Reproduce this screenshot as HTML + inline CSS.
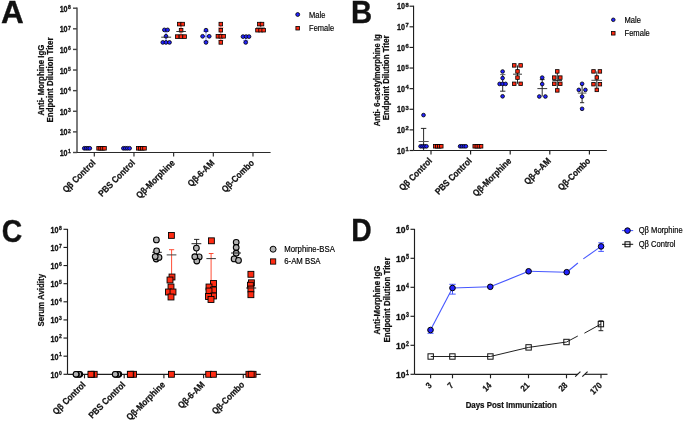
<!DOCTYPE html>
<html><head><meta charset="utf-8"><style>
html,body{margin:0;padding:0;background:#fff;}
svg{display:block;font-family:"Liberation Sans",sans-serif;will-change:transform;}
</style></head><body>
<svg width="685" height="421" viewBox="0 0 685 421">
<rect width="685" height="421" fill="#fff"/>
<text transform="translate(0.93 22.60) scale(1.0 0.97)" font-size="31.5" font-weight="bold" text-anchor="start" fill="#111" stroke="#111" stroke-width="0.35">A</text>
<text transform="translate(351.00 22.60) scale(0.93 0.98)" font-size="31.5" font-weight="bold" text-anchor="start" fill="#111" stroke="#111" stroke-width="0.35">B</text>
<text transform="translate(1.86 241.90) scale(0.9 1.0)" font-size="31.5" font-weight="bold" text-anchor="start" fill="#111" stroke="#111" stroke-width="0.35">C</text>
<text transform="translate(351.20 241.00) scale(0.9 0.985)" font-size="31.5" font-weight="bold" text-anchor="start" fill="#111" stroke="#111" stroke-width="0.35">D</text>
<line x1="77.00" y1="7.50" x2="77.00" y2="152.50" stroke="#444" stroke-width="1.4" />
<line x1="73.00" y1="8.20" x2="77.00" y2="8.20" stroke="#444" stroke-width="1.4" />
<text transform="translate(67.60 11.70) scale(0.92 1.13)" font-size="7.8" font-weight="bold" text-anchor="end" fill="#111" stroke="#111" stroke-width="0.28">10</text>
<text transform="translate(68.10 8.90) scale(1 0.95)" font-size="5.0" font-weight="bold" text-anchor="start" fill="#111" stroke="#111" stroke-width="0.3">8</text>
<line x1="73.00" y1="28.81" x2="77.00" y2="28.81" stroke="#444" stroke-width="1.4" />
<text transform="translate(67.60 32.31) scale(0.92 1.13)" font-size="7.8" font-weight="bold" text-anchor="end" fill="#111" stroke="#111" stroke-width="0.28">10</text>
<text transform="translate(68.10 29.51) scale(1 0.95)" font-size="5.0" font-weight="bold" text-anchor="start" fill="#111" stroke="#111" stroke-width="0.3">7</text>
<line x1="73.00" y1="49.43" x2="77.00" y2="49.43" stroke="#444" stroke-width="1.4" />
<text transform="translate(67.60 52.93) scale(0.92 1.13)" font-size="7.8" font-weight="bold" text-anchor="end" fill="#111" stroke="#111" stroke-width="0.28">10</text>
<text transform="translate(68.10 50.13) scale(1 0.95)" font-size="5.0" font-weight="bold" text-anchor="start" fill="#111" stroke="#111" stroke-width="0.3">6</text>
<line x1="73.00" y1="70.04" x2="77.00" y2="70.04" stroke="#444" stroke-width="1.4" />
<text transform="translate(67.60 73.54) scale(0.92 1.13)" font-size="7.8" font-weight="bold" text-anchor="end" fill="#111" stroke="#111" stroke-width="0.28">10</text>
<text transform="translate(68.10 70.74) scale(1 0.95)" font-size="5.0" font-weight="bold" text-anchor="start" fill="#111" stroke="#111" stroke-width="0.3">5</text>
<line x1="73.00" y1="90.66" x2="77.00" y2="90.66" stroke="#444" stroke-width="1.4" />
<text transform="translate(67.60 94.16) scale(0.92 1.13)" font-size="7.8" font-weight="bold" text-anchor="end" fill="#111" stroke="#111" stroke-width="0.28">10</text>
<text transform="translate(68.10 91.36) scale(1 0.95)" font-size="5.0" font-weight="bold" text-anchor="start" fill="#111" stroke="#111" stroke-width="0.3">4</text>
<line x1="73.00" y1="111.27" x2="77.00" y2="111.27" stroke="#444" stroke-width="1.4" />
<text transform="translate(67.60 114.77) scale(0.92 1.13)" font-size="7.8" font-weight="bold" text-anchor="end" fill="#111" stroke="#111" stroke-width="0.28">10</text>
<text transform="translate(68.10 111.97) scale(1 0.95)" font-size="5.0" font-weight="bold" text-anchor="start" fill="#111" stroke="#111" stroke-width="0.3">3</text>
<line x1="73.00" y1="131.88" x2="77.00" y2="131.88" stroke="#444" stroke-width="1.4" />
<text transform="translate(67.60 135.38) scale(0.92 1.13)" font-size="7.8" font-weight="bold" text-anchor="end" fill="#111" stroke="#111" stroke-width="0.28">10</text>
<text transform="translate(68.10 132.58) scale(1 0.95)" font-size="5.0" font-weight="bold" text-anchor="start" fill="#111" stroke="#111" stroke-width="0.3">2</text>
<line x1="73.00" y1="152.50" x2="77.00" y2="152.50" stroke="#444" stroke-width="1.4" />
<text transform="translate(67.60 156.00) scale(0.92 1.13)" font-size="7.8" font-weight="bold" text-anchor="end" fill="#111" stroke="#111" stroke-width="0.28">10</text>
<text transform="translate(68.10 153.20) scale(1 0.95)" font-size="5.0" font-weight="bold" text-anchor="start" fill="#111" stroke="#111" stroke-width="0.3">1</text>
<line x1="77.00" y1="152.50" x2="270.60" y2="152.50" stroke="#2a2a2a" stroke-width="1.15" />
<line x1="94.30" y1="152.50" x2="94.30" y2="156.50" stroke="#2a2a2a" stroke-width="1.15" />
<line x1="133.97" y1="152.50" x2="133.97" y2="156.50" stroke="#2a2a2a" stroke-width="1.15" />
<line x1="173.64" y1="152.50" x2="173.64" y2="156.50" stroke="#2a2a2a" stroke-width="1.15" />
<line x1="213.31" y1="152.50" x2="213.31" y2="156.50" stroke="#2a2a2a" stroke-width="1.15" />
<line x1="252.98" y1="152.50" x2="252.98" y2="156.50" stroke="#2a2a2a" stroke-width="1.15" />
<text transform="translate(96.00 163.50) rotate(-45) scale(1 1.13)" font-size="8.1" font-weight="bold" text-anchor="end" fill="#111" stroke="#111" stroke-width="0.21">Qβ Control</text>
<text transform="translate(135.67 163.50) rotate(-45) scale(1 1.13)" font-size="8.1" font-weight="bold" text-anchor="end" fill="#111" stroke="#111" stroke-width="0.21">PBS Control</text>
<text transform="translate(175.34 163.50) rotate(-45) scale(1 1.13)" font-size="8.1" font-weight="bold" text-anchor="end" fill="#111" stroke="#111" stroke-width="0.21">Qβ-Morphine</text>
<text transform="translate(215.01 163.50) rotate(-45) scale(1 1.13)" font-size="8.1" font-weight="bold" text-anchor="end" fill="#111" stroke="#111" stroke-width="0.21">Qβ-6-AM</text>
<text transform="translate(254.68 163.50) rotate(-45) scale(1 1.13)" font-size="8.1" font-weight="bold" text-anchor="end" fill="#111" stroke="#111" stroke-width="0.21">Qβ-Combo</text>
<text transform="translate(44.00 80.00) rotate(-90) scale(1 1.07)" font-size="7.9" font-weight="bold" text-anchor="middle" fill="#111" stroke="#111" stroke-width="0.21">Anti- Morphine IgG</text>
<text transform="translate(53.30 80.00) rotate(-90) scale(1 1.07)" font-size="7.9" font-weight="bold" text-anchor="middle" fill="#111" stroke="#111" stroke-width="0.21">Endpoint Dilution Titer</text>
<circle cx="297.70" cy="14.50" r="1.95" fill="#2323ff" stroke="#000" stroke-width="0.8"/>
<text transform="translate(309.10 17.60) scale(1 1.1)" font-size="7.5" font-weight="normal" text-anchor="start" fill="#000" stroke="#000" stroke-width="0.16">Male</text>
<rect x="295.90" y="26.40" width="3.60" height="3.60" fill="#ff2b12" stroke="#000" stroke-width="0.8"/>
<text transform="translate(309.10 30.90) scale(1 1.1)" font-size="7.5" font-weight="normal" text-anchor="start" fill="#000" stroke="#000" stroke-width="0.16">Female</text>
<circle cx="84.30" cy="148.30" r="1.90" fill="#2323ff" stroke="#000" stroke-width="0.8"/>
<circle cx="86.20" cy="148.30" r="1.90" fill="#2323ff" stroke="#000" stroke-width="0.8"/>
<circle cx="88.00" cy="148.30" r="1.90" fill="#2323ff" stroke="#000" stroke-width="0.8"/>
<circle cx="89.80" cy="148.30" r="1.90" fill="#2323ff" stroke="#000" stroke-width="0.8"/>
<rect x="96.80" y="146.50" width="3.60" height="3.60" fill="#ff2b12" stroke="#000" stroke-width="0.8"/>
<rect x="98.80" y="146.50" width="3.60" height="3.60" fill="#ff2b12" stroke="#000" stroke-width="0.8"/>
<rect x="100.70" y="146.50" width="3.60" height="3.60" fill="#ff2b12" stroke="#000" stroke-width="0.8"/>
<rect x="102.70" y="146.50" width="3.60" height="3.60" fill="#ff2b12" stroke="#000" stroke-width="0.8"/>
<circle cx="123.40" cy="148.30" r="1.90" fill="#2323ff" stroke="#000" stroke-width="0.8"/>
<circle cx="125.40" cy="148.30" r="1.90" fill="#2323ff" stroke="#000" stroke-width="0.8"/>
<circle cx="127.40" cy="148.30" r="1.90" fill="#2323ff" stroke="#000" stroke-width="0.8"/>
<circle cx="129.60" cy="148.30" r="1.90" fill="#2323ff" stroke="#000" stroke-width="0.8"/>
<rect x="136.50" y="146.50" width="3.60" height="3.60" fill="#ff2b12" stroke="#000" stroke-width="0.8"/>
<rect x="138.50" y="146.50" width="3.60" height="3.60" fill="#ff2b12" stroke="#000" stroke-width="0.8"/>
<rect x="140.50" y="146.50" width="3.60" height="3.60" fill="#ff2b12" stroke="#000" stroke-width="0.8"/>
<rect x="142.70" y="146.50" width="3.60" height="3.60" fill="#ff2b12" stroke="#000" stroke-width="0.8"/>
<line x1="166.00" y1="29.90" x2="166.00" y2="42.40" stroke="#3b4bff" stroke-width="0.8" />
<circle cx="164.40" cy="29.90" r="1.90" fill="#2323ff" stroke="#000" stroke-width="0.8"/>
<circle cx="167.60" cy="29.90" r="1.90" fill="#2323ff" stroke="#000" stroke-width="0.8"/>
<circle cx="166.00" cy="36.30" r="1.90" fill="#2323ff" stroke="#000" stroke-width="0.8"/>
<circle cx="162.80" cy="42.40" r="1.90" fill="#2323ff" stroke="#000" stroke-width="0.8"/>
<circle cx="166.00" cy="42.40" r="1.90" fill="#2323ff" stroke="#000" stroke-width="0.8"/>
<circle cx="169.50" cy="42.40" r="1.90" fill="#2323ff" stroke="#000" stroke-width="0.8"/>
<line x1="161.20" y1="37.20" x2="171.10" y2="37.20" stroke="#222" stroke-width="0.9" />
<line x1="181.00" y1="24.10" x2="181.00" y2="36.60" stroke="#ff3a20" stroke-width="0.8" />
<rect x="177.40" y="22.30" width="3.60" height="3.60" fill="#ff2b12" stroke="#000" stroke-width="0.8"/>
<rect x="180.90" y="22.30" width="3.60" height="3.60" fill="#ff2b12" stroke="#000" stroke-width="0.8"/>
<rect x="179.30" y="28.40" width="3.60" height="3.60" fill="#ff2b12" stroke="#000" stroke-width="0.8"/>
<rect x="175.40" y="34.80" width="3.60" height="3.60" fill="#ff2b12" stroke="#000" stroke-width="0.8"/>
<rect x="179.20" y="34.80" width="3.60" height="3.60" fill="#ff2b12" stroke="#000" stroke-width="0.8"/>
<rect x="182.80" y="34.80" width="3.60" height="3.60" fill="#ff2b12" stroke="#000" stroke-width="0.8"/>
<line x1="176.30" y1="31.50" x2="185.90" y2="31.50" stroke="#222" stroke-width="0.9" />
<line x1="206.00" y1="30.20" x2="206.00" y2="42.40" stroke="#6f7cff" stroke-width="0.9" />
<line x1="203.30" y1="31.50" x2="208.70" y2="31.50" stroke="#6f7cff" stroke-width="0.9" />
<line x1="203.30" y1="41.00" x2="208.70" y2="41.00" stroke="#6f7cff" stroke-width="0.9" />
<line x1="203.00" y1="36.30" x2="209.00" y2="36.30" stroke="#6f7cff" stroke-width="1.0" />
<circle cx="206.00" cy="30.20" r="1.90" fill="#2323ff" stroke="#000" stroke-width="0.8"/>
<circle cx="202.60" cy="36.30" r="1.90" fill="#2323ff" stroke="#000" stroke-width="0.8"/>
<circle cx="209.20" cy="36.30" r="1.90" fill="#2323ff" stroke="#000" stroke-width="0.8"/>
<circle cx="206.00" cy="42.40" r="1.90" fill="#2323ff" stroke="#000" stroke-width="0.8"/>
<line x1="220.80" y1="24.10" x2="220.80" y2="42.40" stroke="#ff6050" stroke-width="0.9" />
<line x1="218.20" y1="27.60" x2="223.40" y2="27.60" stroke="#ff8a80" stroke-width="0.9" />
<line x1="218.20" y1="40.40" x2="223.40" y2="40.40" stroke="#ff8a80" stroke-width="0.9" />
<rect x="219.00" y="22.30" width="3.60" height="3.60" fill="#ff2b12" stroke="#000" stroke-width="0.8"/>
<rect x="219.00" y="28.40" width="3.60" height="3.60" fill="#ff2b12" stroke="#000" stroke-width="0.8"/>
<rect x="216.10" y="34.50" width="3.60" height="3.60" fill="#ff2b12" stroke="#000" stroke-width="0.8"/>
<rect x="219.00" y="34.50" width="3.60" height="3.60" fill="#ff2b12" stroke="#000" stroke-width="0.8"/>
<rect x="221.80" y="34.50" width="3.60" height="3.60" fill="#ff2b12" stroke="#000" stroke-width="0.8"/>
<rect x="219.00" y="40.60" width="3.60" height="3.60" fill="#ff2b12" stroke="#000" stroke-width="0.8"/>
<line x1="245.70" y1="36.60" x2="245.70" y2="42.40" stroke="#6f7cff" stroke-width="0.9" />
<line x1="243.20" y1="40.40" x2="248.20" y2="40.40" stroke="#6f7cff" stroke-width="0.9" />
<circle cx="243.00" cy="36.60" r="1.90" fill="#2323ff" stroke="#000" stroke-width="0.8"/>
<circle cx="246.10" cy="36.60" r="1.90" fill="#2323ff" stroke="#000" stroke-width="0.8"/>
<circle cx="249.00" cy="36.60" r="1.90" fill="#2323ff" stroke="#000" stroke-width="0.8"/>
<circle cx="245.70" cy="42.40" r="1.90" fill="#2323ff" stroke="#000" stroke-width="0.8"/>
<line x1="260.60" y1="24.10" x2="260.60" y2="30.20" stroke="#ff6050" stroke-width="0.9" />
<line x1="256.00" y1="27.50" x2="265.00" y2="27.50" stroke="#999" stroke-width="0.9" />
<rect x="257.50" y="22.30" width="3.60" height="3.60" fill="#ff2b12" stroke="#000" stroke-width="0.8"/>
<rect x="260.20" y="22.30" width="3.60" height="3.60" fill="#ff2b12" stroke="#000" stroke-width="0.8"/>
<rect x="255.70" y="28.40" width="3.60" height="3.60" fill="#ff2b12" stroke="#000" stroke-width="0.8"/>
<rect x="258.80" y="28.40" width="3.60" height="3.60" fill="#ff2b12" stroke="#000" stroke-width="0.8"/>
<rect x="261.90" y="28.40" width="3.60" height="3.60" fill="#ff2b12" stroke="#000" stroke-width="0.8"/>
<line x1="413.55" y1="5.70" x2="413.55" y2="150.50" stroke="#1e1e1e" stroke-width="1.15" />
<line x1="409.55" y1="6.20" x2="413.55" y2="6.20" stroke="#1e1e1e" stroke-width="1.15" />
<text transform="translate(404.90 9.40) scale(0.92 1.13)" font-size="7.8" font-weight="bold" text-anchor="end" fill="#111" stroke="#111" stroke-width="0.28">10</text>
<text transform="translate(405.40 6.80)" font-size="5.8" font-weight="bold" text-anchor="start" fill="#111" stroke="#111" stroke-width="0.3">8</text>
<line x1="409.55" y1="26.81" x2="413.55" y2="26.81" stroke="#1e1e1e" stroke-width="1.15" />
<text transform="translate(404.90 30.01) scale(0.92 1.13)" font-size="7.8" font-weight="bold" text-anchor="end" fill="#111" stroke="#111" stroke-width="0.28">10</text>
<text transform="translate(405.40 27.41)" font-size="5.8" font-weight="bold" text-anchor="start" fill="#111" stroke="#111" stroke-width="0.3">7</text>
<line x1="409.55" y1="47.43" x2="413.55" y2="47.43" stroke="#1e1e1e" stroke-width="1.15" />
<text transform="translate(404.90 50.63) scale(0.92 1.13)" font-size="7.8" font-weight="bold" text-anchor="end" fill="#111" stroke="#111" stroke-width="0.28">10</text>
<text transform="translate(405.40 48.03)" font-size="5.8" font-weight="bold" text-anchor="start" fill="#111" stroke="#111" stroke-width="0.3">6</text>
<line x1="409.55" y1="68.04" x2="413.55" y2="68.04" stroke="#1e1e1e" stroke-width="1.15" />
<text transform="translate(404.90 71.24) scale(0.92 1.13)" font-size="7.8" font-weight="bold" text-anchor="end" fill="#111" stroke="#111" stroke-width="0.28">10</text>
<text transform="translate(405.40 68.64)" font-size="5.8" font-weight="bold" text-anchor="start" fill="#111" stroke="#111" stroke-width="0.3">5</text>
<line x1="409.55" y1="88.66" x2="413.55" y2="88.66" stroke="#1e1e1e" stroke-width="1.15" />
<text transform="translate(404.90 91.86) scale(0.92 1.13)" font-size="7.8" font-weight="bold" text-anchor="end" fill="#111" stroke="#111" stroke-width="0.28">10</text>
<text transform="translate(405.40 89.26)" font-size="5.8" font-weight="bold" text-anchor="start" fill="#111" stroke="#111" stroke-width="0.3">4</text>
<line x1="409.55" y1="109.27" x2="413.55" y2="109.27" stroke="#1e1e1e" stroke-width="1.15" />
<text transform="translate(404.90 112.47) scale(0.92 1.13)" font-size="7.8" font-weight="bold" text-anchor="end" fill="#111" stroke="#111" stroke-width="0.28">10</text>
<text transform="translate(405.40 109.87)" font-size="5.8" font-weight="bold" text-anchor="start" fill="#111" stroke="#111" stroke-width="0.3">3</text>
<line x1="409.55" y1="129.88" x2="413.55" y2="129.88" stroke="#1e1e1e" stroke-width="1.15" />
<text transform="translate(404.90 133.08) scale(0.92 1.13)" font-size="7.8" font-weight="bold" text-anchor="end" fill="#111" stroke="#111" stroke-width="0.28">10</text>
<text transform="translate(405.40 130.48)" font-size="5.8" font-weight="bold" text-anchor="start" fill="#111" stroke="#111" stroke-width="0.3">2</text>
<line x1="409.55" y1="150.50" x2="413.55" y2="150.50" stroke="#1e1e1e" stroke-width="1.15" />
<text transform="translate(404.90 153.70) scale(0.92 1.13)" font-size="7.8" font-weight="bold" text-anchor="end" fill="#111" stroke="#111" stroke-width="0.28">10</text>
<text transform="translate(405.40 151.10)" font-size="5.8" font-weight="bold" text-anchor="start" fill="#111" stroke="#111" stroke-width="0.3">1</text>
<line x1="413.55" y1="150.50" x2="606.80" y2="150.50" stroke="#1e1e1e" stroke-width="1.15" />
<line x1="431.00" y1="150.50" x2="431.00" y2="154.50" stroke="#1e1e1e" stroke-width="1.15" />
<line x1="470.60" y1="150.50" x2="470.60" y2="154.50" stroke="#1e1e1e" stroke-width="1.15" />
<line x1="510.20" y1="150.50" x2="510.20" y2="154.50" stroke="#1e1e1e" stroke-width="1.15" />
<line x1="549.80" y1="150.50" x2="549.80" y2="154.50" stroke="#1e1e1e" stroke-width="1.15" />
<line x1="589.40" y1="150.50" x2="589.40" y2="154.50" stroke="#1e1e1e" stroke-width="1.15" />
<text transform="translate(432.70 161.50) rotate(-45) scale(1 1.13)" font-size="8.1" font-weight="bold" text-anchor="end" fill="#111" stroke="#111" stroke-width="0.21">Qβ Control</text>
<text transform="translate(472.30 161.50) rotate(-45) scale(1 1.13)" font-size="8.1" font-weight="bold" text-anchor="end" fill="#111" stroke="#111" stroke-width="0.21">PBS Control</text>
<text transform="translate(511.90 161.50) rotate(-45) scale(1 1.13)" font-size="8.1" font-weight="bold" text-anchor="end" fill="#111" stroke="#111" stroke-width="0.21">Qβ-Morphine</text>
<text transform="translate(551.50 161.50) rotate(-45) scale(1 1.13)" font-size="8.1" font-weight="bold" text-anchor="end" fill="#111" stroke="#111" stroke-width="0.21">Qβ-6-AM</text>
<text transform="translate(591.10 161.50) rotate(-45) scale(1 1.13)" font-size="8.1" font-weight="bold" text-anchor="end" fill="#111" stroke="#111" stroke-width="0.21">Qβ-Combo</text>
<text transform="translate(379.80 80.30) rotate(-90) scale(0.973 1.07)" font-size="7.9" font-weight="bold" text-anchor="middle" fill="#111" stroke="#111" stroke-width="0.21">Anti- 6-acetylmorphine Ig</text>
<text transform="translate(389.40 77.80) rotate(-90) scale(1 1.07)" font-size="7.9" font-weight="bold" text-anchor="middle" fill="#111" stroke="#111" stroke-width="0.21">Endpoint Dilution Titer</text>
<circle cx="613.30" cy="19.80" r="1.80" fill="#2323ff" stroke="#000" stroke-width="0.8"/>
<text transform="translate(624.50 22.50) scale(1 1.1)" font-size="7.6" font-weight="normal" text-anchor="start" fill="#000" stroke="#000" stroke-width="0.16">Male</text>
<rect x="611.55" y="31.55" width="3.50" height="3.50" fill="#ff2b12" stroke="#000" stroke-width="0.8"/>
<text transform="translate(624.50 36.10) scale(1 1.1)" font-size="7.6" font-weight="normal" text-anchor="start" fill="#000" stroke="#000" stroke-width="0.16">Female</text>
<line x1="423.60" y1="128.40" x2="423.60" y2="150.00" stroke="#111" stroke-width="0.9" />
<line x1="420.90" y1="128.40" x2="426.30" y2="128.40" stroke="#111" stroke-width="0.9" />
<line x1="418.60" y1="141.50" x2="428.70" y2="141.50" stroke="#555" stroke-width="1.0" />
<circle cx="423.50" cy="115.10" r="1.85" fill="#2323ff" stroke="#000" stroke-width="0.8"/>
<circle cx="420.60" cy="146.30" r="1.85" fill="#2323ff" stroke="#000" stroke-width="0.8"/>
<circle cx="422.60" cy="146.30" r="1.85" fill="#2323ff" stroke="#000" stroke-width="0.8"/>
<circle cx="424.60" cy="146.30" r="1.85" fill="#2323ff" stroke="#000" stroke-width="0.8"/>
<circle cx="426.50" cy="146.30" r="1.85" fill="#2323ff" stroke="#000" stroke-width="0.8"/>
<rect x="433.45" y="144.55" width="3.50" height="3.50" fill="#ff2b12" stroke="#000" stroke-width="0.8"/>
<rect x="435.45" y="144.55" width="3.50" height="3.50" fill="#ff2b12" stroke="#000" stroke-width="0.8"/>
<rect x="437.55" y="144.55" width="3.50" height="3.50" fill="#ff2b12" stroke="#000" stroke-width="0.8"/>
<rect x="439.55" y="144.55" width="3.50" height="3.50" fill="#ff2b12" stroke="#000" stroke-width="0.8"/>
<circle cx="460.10" cy="146.30" r="1.85" fill="#2323ff" stroke="#000" stroke-width="0.8"/>
<circle cx="462.00" cy="146.30" r="1.85" fill="#2323ff" stroke="#000" stroke-width="0.8"/>
<circle cx="464.00" cy="146.30" r="1.85" fill="#2323ff" stroke="#000" stroke-width="0.8"/>
<circle cx="465.90" cy="146.30" r="1.85" fill="#2323ff" stroke="#000" stroke-width="0.8"/>
<rect x="472.95" y="144.55" width="3.50" height="3.50" fill="#ff2b12" stroke="#000" stroke-width="0.8"/>
<rect x="475.05" y="144.55" width="3.50" height="3.50" fill="#ff2b12" stroke="#000" stroke-width="0.8"/>
<rect x="477.15" y="144.55" width="3.50" height="3.50" fill="#ff2b12" stroke="#000" stroke-width="0.8"/>
<rect x="479.35" y="144.55" width="3.50" height="3.50" fill="#ff2b12" stroke="#000" stroke-width="0.8"/>
<line x1="502.70" y1="74.60" x2="502.70" y2="91.20" stroke="#111" stroke-width="0.9" />
<line x1="500.10" y1="91.20" x2="505.40" y2="91.20" stroke="#111" stroke-width="0.9" />
<line x1="500.10" y1="74.60" x2="505.40" y2="74.60" stroke="#555" stroke-width="0.9" />
<circle cx="502.60" cy="71.50" r="1.85" fill="#2323ff" stroke="#000" stroke-width="0.8"/>
<circle cx="502.60" cy="78.10" r="1.85" fill="#2323ff" stroke="#000" stroke-width="0.8"/>
<circle cx="499.60" cy="83.90" r="1.85" fill="#2323ff" stroke="#000" stroke-width="0.8"/>
<circle cx="502.60" cy="83.90" r="1.85" fill="#2323ff" stroke="#000" stroke-width="0.8"/>
<circle cx="505.60" cy="83.90" r="1.85" fill="#2323ff" stroke="#000" stroke-width="0.8"/>
<circle cx="502.60" cy="96.30" r="1.85" fill="#2323ff" stroke="#000" stroke-width="0.8"/>
<line x1="517.50" y1="65.40" x2="517.50" y2="83.80" stroke="#111" stroke-width="0.9" />
<rect x="512.55" y="63.65" width="3.50" height="3.50" fill="#ff2b12" stroke="#000" stroke-width="0.8"/>
<rect x="518.85" y="63.65" width="3.50" height="3.50" fill="#ff2b12" stroke="#000" stroke-width="0.8"/>
<rect x="515.75" y="69.65" width="3.50" height="3.50" fill="#ff2b12" stroke="#000" stroke-width="0.8"/>
<rect x="515.75" y="75.85" width="3.50" height="3.50" fill="#ff2b12" stroke="#000" stroke-width="0.8"/>
<rect x="512.55" y="82.05" width="3.50" height="3.50" fill="#ff2b12" stroke="#000" stroke-width="0.8"/>
<rect x="518.85" y="82.05" width="3.50" height="3.50" fill="#ff2b12" stroke="#000" stroke-width="0.8"/>
<line x1="513.00" y1="74.20" x2="522.00" y2="74.20" stroke="#222" stroke-width="0.9" />
<line x1="542.20" y1="78.00" x2="542.20" y2="96.50" stroke="#111" stroke-width="0.9" />
<line x1="539.80" y1="79.60" x2="544.60" y2="79.60" stroke="#111" stroke-width="0.9" />
<circle cx="542.20" cy="77.60" r="1.85" fill="#2323ff" stroke="#000" stroke-width="0.8"/>
<circle cx="542.20" cy="84.10" r="1.85" fill="#2323ff" stroke="#000" stroke-width="0.8"/>
<circle cx="539.30" cy="96.50" r="1.85" fill="#2323ff" stroke="#000" stroke-width="0.8"/>
<circle cx="545.40" cy="96.50" r="1.85" fill="#2323ff" stroke="#000" stroke-width="0.8"/>
<line x1="537.40" y1="88.60" x2="547.20" y2="88.60" stroke="#222" stroke-width="0.9" />
<line x1="557.30" y1="71.40" x2="557.30" y2="90.40" stroke="#111" stroke-width="0.9" />
<rect x="555.55" y="69.65" width="3.50" height="3.50" fill="#ff2b12" stroke="#000" stroke-width="0.8"/>
<rect x="552.55" y="75.85" width="3.50" height="3.50" fill="#ff2b12" stroke="#000" stroke-width="0.8"/>
<rect x="558.55" y="75.85" width="3.50" height="3.50" fill="#ff2b12" stroke="#000" stroke-width="0.8"/>
<rect x="552.55" y="82.05" width="3.50" height="3.50" fill="#ff2b12" stroke="#000" stroke-width="0.8"/>
<rect x="558.55" y="82.05" width="3.50" height="3.50" fill="#ff2b12" stroke="#000" stroke-width="0.8"/>
<rect x="555.55" y="88.65" width="3.50" height="3.50" fill="#ff2b12" stroke="#000" stroke-width="0.8"/>
<line x1="552.50" y1="80.50" x2="562.00" y2="80.50" stroke="#222" stroke-width="0.9" />
<line x1="582.10" y1="83.80" x2="582.10" y2="102.70" stroke="#111" stroke-width="0.9" />
<line x1="580.00" y1="102.70" x2="584.20" y2="102.70" stroke="#111" stroke-width="0.9" />
<circle cx="582.10" cy="83.80" r="1.85" fill="#2323ff" stroke="#000" stroke-width="0.8"/>
<circle cx="578.80" cy="89.90" r="1.85" fill="#2323ff" stroke="#000" stroke-width="0.8"/>
<circle cx="585.40" cy="89.90" r="1.85" fill="#2323ff" stroke="#000" stroke-width="0.8"/>
<circle cx="582.10" cy="96.60" r="1.85" fill="#2323ff" stroke="#000" stroke-width="0.8"/>
<circle cx="582.10" cy="108.80" r="1.85" fill="#2323ff" stroke="#000" stroke-width="0.8"/>
<line x1="577.80" y1="93.10" x2="586.40" y2="93.10" stroke="#444" stroke-width="0.9" />
<line x1="596.80" y1="71.40" x2="596.80" y2="89.90" stroke="#111" stroke-width="0.9" />
<rect x="591.75" y="69.65" width="3.50" height="3.50" fill="#ff2b12" stroke="#000" stroke-width="0.8"/>
<rect x="598.15" y="69.65" width="3.50" height="3.50" fill="#ff2b12" stroke="#000" stroke-width="0.8"/>
<rect x="595.05" y="75.75" width="3.50" height="3.50" fill="#ff2b12" stroke="#000" stroke-width="0.8"/>
<rect x="591.75" y="82.45" width="3.50" height="3.50" fill="#ff2b12" stroke="#000" stroke-width="0.8"/>
<rect x="598.15" y="82.45" width="3.50" height="3.50" fill="#ff2b12" stroke="#000" stroke-width="0.8"/>
<rect x="595.05" y="88.15" width="3.50" height="3.50" fill="#ff2b12" stroke="#000" stroke-width="0.8"/>
<line x1="591.40" y1="80.30" x2="602.00" y2="80.30" stroke="#333" stroke-width="0.9" />
<line x1="67.50" y1="228.90" x2="67.50" y2="374.30" stroke="#1e1e1e" stroke-width="1.15" />
<line x1="63.50" y1="229.30" x2="67.50" y2="229.30" stroke="#1e1e1e" stroke-width="1.15" />
<text transform="translate(58.40 232.80) scale(0.92 1.13)" font-size="7.8" font-weight="bold" text-anchor="end" fill="#111" stroke="#111" stroke-width="0.28">10</text>
<text transform="translate(58.90 229.50) scale(1 0.95)" font-size="5.0" font-weight="bold" text-anchor="start" fill="#111" stroke="#111" stroke-width="0.3">8</text>
<line x1="63.50" y1="247.43" x2="67.50" y2="247.43" stroke="#1e1e1e" stroke-width="1.15" />
<text transform="translate(58.40 250.93) scale(0.92 1.13)" font-size="7.8" font-weight="bold" text-anchor="end" fill="#111" stroke="#111" stroke-width="0.28">10</text>
<text transform="translate(58.90 247.62) scale(1 0.95)" font-size="5.0" font-weight="bold" text-anchor="start" fill="#111" stroke="#111" stroke-width="0.3">7</text>
<line x1="63.50" y1="265.55" x2="67.50" y2="265.55" stroke="#1e1e1e" stroke-width="1.15" />
<text transform="translate(58.40 269.05) scale(0.92 1.13)" font-size="7.8" font-weight="bold" text-anchor="end" fill="#111" stroke="#111" stroke-width="0.28">10</text>
<text transform="translate(58.90 265.75) scale(1 0.95)" font-size="5.0" font-weight="bold" text-anchor="start" fill="#111" stroke="#111" stroke-width="0.3">6</text>
<line x1="63.50" y1="283.68" x2="67.50" y2="283.68" stroke="#1e1e1e" stroke-width="1.15" />
<text transform="translate(58.40 287.18) scale(0.92 1.13)" font-size="7.8" font-weight="bold" text-anchor="end" fill="#111" stroke="#111" stroke-width="0.28">10</text>
<text transform="translate(58.90 283.88) scale(1 0.95)" font-size="5.0" font-weight="bold" text-anchor="start" fill="#111" stroke="#111" stroke-width="0.3">5</text>
<line x1="63.50" y1="301.80" x2="67.50" y2="301.80" stroke="#1e1e1e" stroke-width="1.15" />
<text transform="translate(58.40 305.30) scale(0.92 1.13)" font-size="7.8" font-weight="bold" text-anchor="end" fill="#111" stroke="#111" stroke-width="0.28">10</text>
<text transform="translate(58.90 302.00) scale(1 0.95)" font-size="5.0" font-weight="bold" text-anchor="start" fill="#111" stroke="#111" stroke-width="0.3">4</text>
<line x1="63.50" y1="319.93" x2="67.50" y2="319.93" stroke="#1e1e1e" stroke-width="1.15" />
<text transform="translate(58.40 323.43) scale(0.92 1.13)" font-size="7.8" font-weight="bold" text-anchor="end" fill="#111" stroke="#111" stroke-width="0.28">10</text>
<text transform="translate(58.90 320.12) scale(1 0.95)" font-size="5.0" font-weight="bold" text-anchor="start" fill="#111" stroke="#111" stroke-width="0.3">3</text>
<line x1="63.50" y1="338.05" x2="67.50" y2="338.05" stroke="#1e1e1e" stroke-width="1.15" />
<text transform="translate(58.40 341.55) scale(0.92 1.13)" font-size="7.8" font-weight="bold" text-anchor="end" fill="#111" stroke="#111" stroke-width="0.28">10</text>
<text transform="translate(58.90 338.25) scale(1 0.95)" font-size="5.0" font-weight="bold" text-anchor="start" fill="#111" stroke="#111" stroke-width="0.3">2</text>
<line x1="63.50" y1="356.18" x2="67.50" y2="356.18" stroke="#1e1e1e" stroke-width="1.15" />
<text transform="translate(58.40 359.68) scale(0.92 1.13)" font-size="7.8" font-weight="bold" text-anchor="end" fill="#111" stroke="#111" stroke-width="0.28">10</text>
<text transform="translate(58.90 356.38) scale(1 0.95)" font-size="5.0" font-weight="bold" text-anchor="start" fill="#111" stroke="#111" stroke-width="0.3">1</text>
<line x1="63.50" y1="374.30" x2="67.50" y2="374.30" stroke="#1e1e1e" stroke-width="1.15" />
<text transform="translate(58.40 377.80) scale(0.92 1.13)" font-size="7.8" font-weight="bold" text-anchor="end" fill="#111" stroke="#111" stroke-width="0.28">10</text>
<text transform="translate(58.90 374.50) scale(1 0.95)" font-size="5.0" font-weight="bold" text-anchor="start" fill="#111" stroke="#111" stroke-width="0.3">0</text>
<line x1="67.50" y1="374.30" x2="260.70" y2="374.30" stroke="#1e1e1e" stroke-width="1.15" />
<line x1="84.50" y1="374.30" x2="84.50" y2="378.30" stroke="#1e1e1e" stroke-width="1.15" />
<line x1="124.20" y1="374.30" x2="124.20" y2="378.30" stroke="#1e1e1e" stroke-width="1.15" />
<line x1="163.90" y1="374.30" x2="163.90" y2="378.30" stroke="#1e1e1e" stroke-width="1.15" />
<line x1="203.60" y1="374.30" x2="203.60" y2="378.30" stroke="#1e1e1e" stroke-width="1.15" />
<line x1="243.30" y1="374.30" x2="243.30" y2="378.30" stroke="#1e1e1e" stroke-width="1.15" />
<text transform="translate(86.20 385.30) rotate(-45) scale(1 1.13)" font-size="8.1" font-weight="bold" text-anchor="end" fill="#111" stroke="#111" stroke-width="0.21">Qβ Control</text>
<text transform="translate(125.90 385.30) rotate(-45) scale(1 1.13)" font-size="8.1" font-weight="bold" text-anchor="end" fill="#111" stroke="#111" stroke-width="0.21">PBS Control</text>
<text transform="translate(165.60 385.30) rotate(-45) scale(1 1.13)" font-size="8.1" font-weight="bold" text-anchor="end" fill="#111" stroke="#111" stroke-width="0.21">Qβ-Morphine</text>
<text transform="translate(205.30 385.30) rotate(-45) scale(1 1.13)" font-size="8.1" font-weight="bold" text-anchor="end" fill="#111" stroke="#111" stroke-width="0.21">Qβ-6-AM</text>
<text transform="translate(245.00 385.30) rotate(-45) scale(1 1.13)" font-size="8.1" font-weight="bold" text-anchor="end" fill="#111" stroke="#111" stroke-width="0.21">Qβ-Combo</text>
<text transform="translate(43.80 300.20) rotate(-90) scale(1 1.07)" font-size="7.9" font-weight="bold" text-anchor="middle" fill="#111" stroke="#111" stroke-width="0.21">Serum Avidity</text>
<circle cx="273.10" cy="249.20" r="3.00" fill="#b3b3b3" stroke="#000" stroke-width="1.0"/>
<text transform="translate(284.20 252.10) scale(1 1.1)" font-size="7.8" font-weight="normal" text-anchor="start" fill="#000" stroke="#000" stroke-width="0.16">Morphine-BSA</text>
<rect x="270.45" y="258.85" width="5.30" height="5.30" fill="#ff2b12" stroke="#000" stroke-width="0.8"/>
<text transform="translate(284.20 263.70) scale(1 1.1)" font-size="7.8" font-weight="normal" text-anchor="start" fill="#000" stroke="#000" stroke-width="0.16">6-AM BSA</text>
<circle cx="79.80" cy="374.30" r="2.85" fill="#b3b3b3" stroke="#000" stroke-width="1.1"/>
<circle cx="78.90" cy="374.30" r="2.85" fill="#b3b3b3" stroke="#000" stroke-width="1.1"/>
<circle cx="76.40" cy="374.30" r="2.85" fill="#b3b3b3" stroke="#000" stroke-width="1.1"/>
<circle cx="76.00" cy="374.30" r="2.85" fill="#b3b3b3" stroke="#000" stroke-width="1.1"/>
<rect x="91.25" y="371.35" width="5.90" height="5.90" fill="#ff2b12" stroke="#000" stroke-width="0.9"/>
<rect x="88.45" y="371.35" width="5.90" height="5.90" fill="#ff2b12" stroke="#000" stroke-width="0.9"/>
<rect x="87.95" y="371.35" width="5.90" height="5.90" fill="#ff2b12" stroke="#000" stroke-width="0.9"/>
<circle cx="118.80" cy="374.30" r="2.85" fill="#b3b3b3" stroke="#000" stroke-width="1.1"/>
<circle cx="117.90" cy="374.30" r="2.85" fill="#b3b3b3" stroke="#000" stroke-width="1.1"/>
<circle cx="115.60" cy="374.30" r="2.85" fill="#b3b3b3" stroke="#000" stroke-width="1.1"/>
<circle cx="115.20" cy="374.30" r="2.85" fill="#b3b3b3" stroke="#000" stroke-width="1.1"/>
<rect x="130.65" y="371.35" width="5.90" height="5.90" fill="#ff2b12" stroke="#000" stroke-width="0.9"/>
<rect x="127.85" y="371.35" width="5.90" height="5.90" fill="#ff2b12" stroke="#000" stroke-width="0.9"/>
<rect x="127.35" y="371.35" width="5.90" height="5.90" fill="#ff2b12" stroke="#000" stroke-width="0.9"/>
<line x1="152.30" y1="252.30" x2="161.80" y2="252.30" stroke="#222" stroke-width="1.0" />
<circle cx="156.40" cy="239.90" r="2.85" fill="#b3b3b3" stroke="#000" stroke-width="1.1"/>
<circle cx="156.60" cy="250.90" r="2.85" fill="#b3b3b3" stroke="#000" stroke-width="1.1"/>
<circle cx="156.20" cy="259.00" r="2.85" fill="#b3b3b3" stroke="#000" stroke-width="1.1"/>
<circle cx="159.00" cy="257.40" r="2.85" fill="#b3b3b3" stroke="#000" stroke-width="1.1"/>
<circle cx="155.20" cy="256.60" r="2.85" fill="#b3b3b3" stroke="#000" stroke-width="1.1"/>
<line x1="171.60" y1="249.70" x2="171.60" y2="277.00" stroke="#ff3a20" stroke-width="0.9" />
<line x1="169.00" y1="249.70" x2="174.20" y2="249.70" stroke="#ff3a20" stroke-width="0.9" />
<line x1="166.70" y1="254.90" x2="176.40" y2="254.90" stroke="#444" stroke-width="1.0" />
<rect x="168.45" y="232.45" width="5.90" height="5.90" fill="#ff2b12" stroke="#000" stroke-width="0.9"/>
<rect x="169.05" y="274.05" width="5.90" height="5.90" fill="#ff2b12" stroke="#000" stroke-width="0.9"/>
<rect x="167.05" y="277.05" width="5.90" height="5.90" fill="#ff2b12" stroke="#000" stroke-width="0.9"/>
<rect x="168.05" y="284.05" width="5.90" height="5.90" fill="#ff2b12" stroke="#000" stroke-width="0.9"/>
<rect x="165.55" y="289.05" width="5.90" height="5.90" fill="#ff2b12" stroke="#000" stroke-width="0.9"/>
<rect x="170.05" y="289.05" width="5.90" height="5.90" fill="#ff2b12" stroke="#000" stroke-width="0.9"/>
<rect x="168.05" y="294.05" width="5.90" height="5.90" fill="#ff2b12" stroke="#000" stroke-width="0.9"/>
<rect x="168.45" y="371.35" width="5.90" height="5.90" fill="#ff2b12" stroke="#000" stroke-width="0.9"/>
<line x1="196.60" y1="239.40" x2="196.60" y2="256.00" stroke="#111" stroke-width="0.9" />
<line x1="194.00" y1="239.40" x2="199.30" y2="239.40" stroke="#111" stroke-width="0.9" />
<line x1="191.50" y1="243.70" x2="201.30" y2="243.70" stroke="#222" stroke-width="1.0" />
<circle cx="196.40" cy="248.10" r="2.85" fill="#b3b3b3" stroke="#000" stroke-width="1.1"/>
<circle cx="199.20" cy="256.90" r="2.85" fill="#b3b3b3" stroke="#000" stroke-width="1.1"/>
<circle cx="196.80" cy="261.00" r="2.85" fill="#b3b3b3" stroke="#000" stroke-width="1.1"/>
<circle cx="194.80" cy="256.70" r="2.85" fill="#b3b3b3" stroke="#000" stroke-width="1.1"/>
<line x1="211.10" y1="253.50" x2="211.10" y2="284.00" stroke="#ff3a20" stroke-width="0.9" />
<line x1="208.80" y1="253.50" x2="213.50" y2="253.50" stroke="#ff3a20" stroke-width="0.9" />
<line x1="206.40" y1="258.60" x2="215.90" y2="258.60" stroke="#333" stroke-width="1.0" />
<rect x="208.45" y="237.85" width="5.90" height="5.90" fill="#ff2b12" stroke="#000" stroke-width="0.9"/>
<rect x="210.55" y="280.55" width="5.90" height="5.90" fill="#ff2b12" stroke="#000" stroke-width="0.9"/>
<rect x="206.05" y="284.05" width="5.90" height="5.90" fill="#ff2b12" stroke="#000" stroke-width="0.9"/>
<rect x="210.55" y="287.05" width="5.90" height="5.90" fill="#ff2b12" stroke="#000" stroke-width="0.9"/>
<rect x="206.05" y="288.05" width="5.90" height="5.90" fill="#ff2b12" stroke="#000" stroke-width="0.9"/>
<rect x="210.55" y="293.05" width="5.90" height="5.90" fill="#ff2b12" stroke="#000" stroke-width="0.9"/>
<rect x="205.55" y="293.55" width="5.90" height="5.90" fill="#ff2b12" stroke="#000" stroke-width="0.9"/>
<rect x="208.05" y="296.55" width="5.90" height="5.90" fill="#ff2b12" stroke="#000" stroke-width="0.9"/>
<rect x="205.75" y="371.35" width="5.90" height="5.90" fill="#ff2b12" stroke="#000" stroke-width="0.9"/>
<rect x="210.45" y="371.35" width="5.90" height="5.90" fill="#ff2b12" stroke="#000" stroke-width="0.9"/>
<circle cx="236.20" cy="242.30" r="2.85" fill="#b3b3b3" stroke="#000" stroke-width="1.1"/>
<circle cx="236.20" cy="247.50" r="2.85" fill="#b3b3b3" stroke="#000" stroke-width="1.1"/>
<circle cx="236.20" cy="253.20" r="2.85" fill="#b3b3b3" stroke="#000" stroke-width="1.1"/>
<circle cx="234.10" cy="258.90" r="2.85" fill="#b3b3b3" stroke="#000" stroke-width="1.1"/>
<circle cx="238.50" cy="260.40" r="2.85" fill="#b3b3b3" stroke="#000" stroke-width="1.1"/>
<line x1="231.00" y1="253.00" x2="241.00" y2="253.00" stroke="#222" stroke-width="1.0" />
<rect x="247.95" y="271.35" width="5.90" height="5.90" fill="#ff2b12" stroke="#000" stroke-width="0.9"/>
<rect x="248.45" y="279.85" width="5.90" height="5.90" fill="#ff2b12" stroke="#000" stroke-width="0.9"/>
<rect x="247.45" y="282.25" width="5.90" height="5.90" fill="#ff2b12" stroke="#000" stroke-width="0.9"/>
<rect x="247.95" y="286.05" width="5.90" height="5.90" fill="#ff2b12" stroke="#000" stroke-width="0.9"/>
<rect x="247.95" y="291.75" width="5.90" height="5.90" fill="#ff2b12" stroke="#000" stroke-width="0.9"/>
<line x1="246.20" y1="288.00" x2="256.20" y2="288.00" stroke="#222" stroke-width="1.0" />
<rect x="245.95" y="371.35" width="5.90" height="5.90" fill="#ff2b12" stroke="#000" stroke-width="0.9"/>
<rect x="250.15" y="371.35" width="5.90" height="5.90" fill="#ff2b12" stroke="#000" stroke-width="0.9"/>
<rect x="248.25" y="371.35" width="5.90" height="5.90" fill="#ff2b12" stroke="#000" stroke-width="0.9"/>
<line x1="414.50" y1="228.90" x2="414.50" y2="374.30" stroke="#1e1e1e" stroke-width="1.15" />
<line x1="410.50" y1="229.30" x2="414.50" y2="229.30" stroke="#1e1e1e" stroke-width="1.15" />
<text transform="translate(405.40 232.80) scale(0.95 1.08)" font-size="9.0" font-weight="bold" text-anchor="end" fill="#111" stroke="#111" stroke-width="0.28">10</text>
<text transform="translate(405.90 229.90) scale(0.88 1.15)" font-size="6.0" font-weight="bold" text-anchor="start" fill="#111" stroke="#111" stroke-width="0.3">6</text>
<line x1="410.50" y1="258.30" x2="414.50" y2="258.30" stroke="#1e1e1e" stroke-width="1.15" />
<text transform="translate(405.40 261.80) scale(0.95 1.08)" font-size="9.0" font-weight="bold" text-anchor="end" fill="#111" stroke="#111" stroke-width="0.28">10</text>
<text transform="translate(405.90 258.90) scale(0.88 1.15)" font-size="6.0" font-weight="bold" text-anchor="start" fill="#111" stroke="#111" stroke-width="0.3">5</text>
<line x1="410.50" y1="287.30" x2="414.50" y2="287.30" stroke="#1e1e1e" stroke-width="1.15" />
<text transform="translate(405.40 290.80) scale(0.95 1.08)" font-size="9.0" font-weight="bold" text-anchor="end" fill="#111" stroke="#111" stroke-width="0.28">10</text>
<text transform="translate(405.90 287.90) scale(0.88 1.15)" font-size="6.0" font-weight="bold" text-anchor="start" fill="#111" stroke="#111" stroke-width="0.3">4</text>
<line x1="410.50" y1="316.30" x2="414.50" y2="316.30" stroke="#1e1e1e" stroke-width="1.15" />
<text transform="translate(405.40 319.80) scale(0.95 1.08)" font-size="9.0" font-weight="bold" text-anchor="end" fill="#111" stroke="#111" stroke-width="0.28">10</text>
<text transform="translate(405.90 316.90) scale(0.88 1.15)" font-size="6.0" font-weight="bold" text-anchor="start" fill="#111" stroke="#111" stroke-width="0.3">3</text>
<line x1="410.50" y1="345.30" x2="414.50" y2="345.30" stroke="#1e1e1e" stroke-width="1.15" />
<text transform="translate(405.40 348.80) scale(0.95 1.08)" font-size="9.0" font-weight="bold" text-anchor="end" fill="#111" stroke="#111" stroke-width="0.28">10</text>
<text transform="translate(405.90 345.90) scale(0.88 1.15)" font-size="6.0" font-weight="bold" text-anchor="start" fill="#111" stroke="#111" stroke-width="0.3">2</text>
<line x1="410.50" y1="374.30" x2="414.50" y2="374.30" stroke="#1e1e1e" stroke-width="1.15" />
<text transform="translate(405.40 377.80) scale(0.95 1.08)" font-size="9.0" font-weight="bold" text-anchor="end" fill="#111" stroke="#111" stroke-width="0.28">10</text>
<text transform="translate(405.90 374.90) scale(0.88 1.15)" font-size="6.0" font-weight="bold" text-anchor="start" fill="#111" stroke="#111" stroke-width="0.3">1</text>
<line x1="414.50" y1="374.30" x2="578.00" y2="374.30" stroke="#1e1e1e" stroke-width="1.15" />
<line x1="585.00" y1="374.30" x2="607.50" y2="374.30" stroke="#1e1e1e" stroke-width="1.15" />
<line x1="575.20" y1="376.70" x2="580.40" y2="371.60" stroke="#1e1e1e" stroke-width="1.15" />
<line x1="582.30" y1="376.70" x2="587.60" y2="371.60" stroke="#1e1e1e" stroke-width="1.15" />
<line x1="430.60" y1="374.30" x2="430.60" y2="378.30" stroke="#1e1e1e" stroke-width="1.15" />
<line x1="452.50" y1="374.30" x2="452.50" y2="378.30" stroke="#1e1e1e" stroke-width="1.15" />
<line x1="490.50" y1="374.30" x2="490.50" y2="378.30" stroke="#1e1e1e" stroke-width="1.15" />
<line x1="528.50" y1="374.30" x2="528.50" y2="378.30" stroke="#1e1e1e" stroke-width="1.15" />
<line x1="566.50" y1="374.30" x2="566.50" y2="378.30" stroke="#1e1e1e" stroke-width="1.15" />
<line x1="601.00" y1="374.30" x2="601.00" y2="378.30" stroke="#1e1e1e" stroke-width="1.15" />
<text transform="translate(432.20 385.90) rotate(-45) scale(1 1.13)" font-size="7.7" font-weight="bold" text-anchor="end" fill="#111" stroke="#111" stroke-width="0.21">3</text>
<text transform="translate(454.10 385.90) rotate(-45) scale(1 1.13)" font-size="7.7" font-weight="bold" text-anchor="end" fill="#111" stroke="#111" stroke-width="0.21">7</text>
<text transform="translate(492.10 385.90) rotate(-45) scale(1 1.13)" font-size="7.7" font-weight="bold" text-anchor="end" fill="#111" stroke="#111" stroke-width="0.21">14</text>
<text transform="translate(530.10 385.90) rotate(-45) scale(1 1.13)" font-size="7.7" font-weight="bold" text-anchor="end" fill="#111" stroke="#111" stroke-width="0.21">21</text>
<text transform="translate(568.10 385.90) rotate(-45) scale(1 1.13)" font-size="7.7" font-weight="bold" text-anchor="end" fill="#111" stroke="#111" stroke-width="0.21">28</text>
<text transform="translate(602.60 385.90) rotate(-45) scale(1 1.13)" font-size="7.7" font-weight="bold" text-anchor="end" fill="#111" stroke="#111" stroke-width="0.21">170</text>
<text transform="translate(511.20 408.20) scale(1 1.13)" font-size="7.9" font-weight="bold" text-anchor="middle" fill="#111" stroke="#111" stroke-width="0.21">Days Post Immunization</text>
<text transform="translate(380.00 300.00) rotate(-90) scale(1 1.07)" font-size="7.9" font-weight="bold" text-anchor="middle" fill="#111" stroke="#111" stroke-width="0.21">Anti-Morphine IgG</text>
<text transform="translate(389.60 300.00) rotate(-90) scale(1 1.07)" font-size="7.9" font-weight="bold" text-anchor="middle" fill="#111" stroke="#111" stroke-width="0.21">Endpoint Dilution Titer</text>
<line x1="622.00" y1="230.60" x2="633.20" y2="230.60" stroke="#4657ff" stroke-width="1.0" />
<circle cx="627.50" cy="230.60" r="2.80" fill="#2323ff" stroke="#000" stroke-width="1.0"/>
<text transform="translate(638.70 233.40) scale(1 1.1)" font-size="7.6" font-weight="normal" text-anchor="start" fill="#000" stroke="#000" stroke-width="0.16">Qβ Morphine</text>
<line x1="622.00" y1="244.30" x2="633.20" y2="244.30" stroke="#111" stroke-width="1.0" />
<rect x="625.00" y="241.80" width="5.00" height="5.00" fill="none" stroke="#000" stroke-width="1.0"/>
<text transform="translate(638.70 246.80) scale(1 1.1)" font-size="7.6" font-weight="normal" text-anchor="start" fill="#000" stroke="#000" stroke-width="0.16">Qβ Control</text>
<line x1="430.70" y1="356.50" x2="452.40" y2="356.50" stroke="#222" stroke-width="1.0" />
<line x1="452.40" y1="356.50" x2="490.40" y2="356.50" stroke="#222" stroke-width="1.0" />
<line x1="490.40" y1="356.50" x2="528.60" y2="347.40" stroke="#222" stroke-width="1.0" />
<line x1="528.60" y1="347.40" x2="566.50" y2="342.00" stroke="#222" stroke-width="1.0" />
<line x1="566.50" y1="342.00" x2="577.80" y2="336.00" stroke="#222" stroke-width="1.0" />
<line x1="584.40" y1="333.20" x2="600.90" y2="324.10" stroke="#222" stroke-width="1.0" />
<line x1="600.90" y1="320.80" x2="600.90" y2="330.70" stroke="#222" stroke-width="1.0" />
<line x1="598.50" y1="330.70" x2="603.30" y2="330.70" stroke="#222" stroke-width="1.0" />
<line x1="598.50" y1="320.80" x2="603.30" y2="320.80" stroke="#222" stroke-width="1.0" />
<rect x="428.00" y="353.80" width="5.40" height="5.40" fill="none" stroke="#111" stroke-width="1.0"/>
<rect x="449.70" y="353.80" width="5.40" height="5.40" fill="none" stroke="#111" stroke-width="1.0"/>
<rect x="487.70" y="353.80" width="5.40" height="5.40" fill="none" stroke="#111" stroke-width="1.0"/>
<rect x="525.90" y="344.70" width="5.40" height="5.40" fill="none" stroke="#111" stroke-width="1.0"/>
<rect x="563.80" y="339.30" width="5.40" height="5.40" fill="none" stroke="#111" stroke-width="1.0"/>
<rect x="598.20" y="321.40" width="5.40" height="5.40" fill="none" stroke="#111" stroke-width="1.0"/>
<line x1="430.50" y1="330.00" x2="452.50" y2="288.00" stroke="#4657ff" stroke-width="1.1" />
<line x1="452.50" y1="288.00" x2="490.30" y2="286.80" stroke="#4657ff" stroke-width="1.1" />
<line x1="490.30" y1="286.80" x2="528.60" y2="271.30" stroke="#4657ff" stroke-width="1.1" />
<line x1="528.60" y1="271.30" x2="566.70" y2="272.20" stroke="#4657ff" stroke-width="1.1" />
<line x1="566.70" y1="272.20" x2="577.90" y2="263.00" stroke="#4657ff" stroke-width="1.1" />
<line x1="583.30" y1="258.90" x2="601.10" y2="246.40" stroke="#4657ff" stroke-width="1.1" />
<line x1="452.50" y1="284.30" x2="452.50" y2="294.10" stroke="#4657ff" stroke-width="1.0" />
<line x1="449.30" y1="284.30" x2="455.70" y2="284.30" stroke="#4657ff" stroke-width="1.0" />
<line x1="449.30" y1="294.10" x2="455.70" y2="294.10" stroke="#4657ff" stroke-width="1.0" />
<line x1="601.10" y1="242.80" x2="601.10" y2="251.40" stroke="#4657ff" stroke-width="1.0" />
<line x1="598.30" y1="242.80" x2="603.90" y2="242.80" stroke="#4657ff" stroke-width="1.0" />
<line x1="598.30" y1="251.40" x2="603.90" y2="251.40" stroke="#4657ff" stroke-width="1.0" />
<line x1="427.50" y1="333.30" x2="433.50" y2="333.30" stroke="#4657ff" stroke-width="1.0" />
<circle cx="430.50" cy="330.00" r="2.80" fill="#2323ff" stroke="#000" stroke-width="1.0"/>
<circle cx="452.50" cy="288.00" r="2.80" fill="#2323ff" stroke="#000" stroke-width="1.0"/>
<circle cx="490.30" cy="286.80" r="2.80" fill="#2323ff" stroke="#000" stroke-width="1.0"/>
<circle cx="528.60" cy="271.30" r="2.80" fill="#2323ff" stroke="#000" stroke-width="1.0"/>
<circle cx="566.70" cy="272.20" r="2.80" fill="#2323ff" stroke="#000" stroke-width="1.0"/>
<circle cx="601.10" cy="246.40" r="2.80" fill="#2323ff" stroke="#000" stroke-width="1.0"/>
</svg>
</body></html>
